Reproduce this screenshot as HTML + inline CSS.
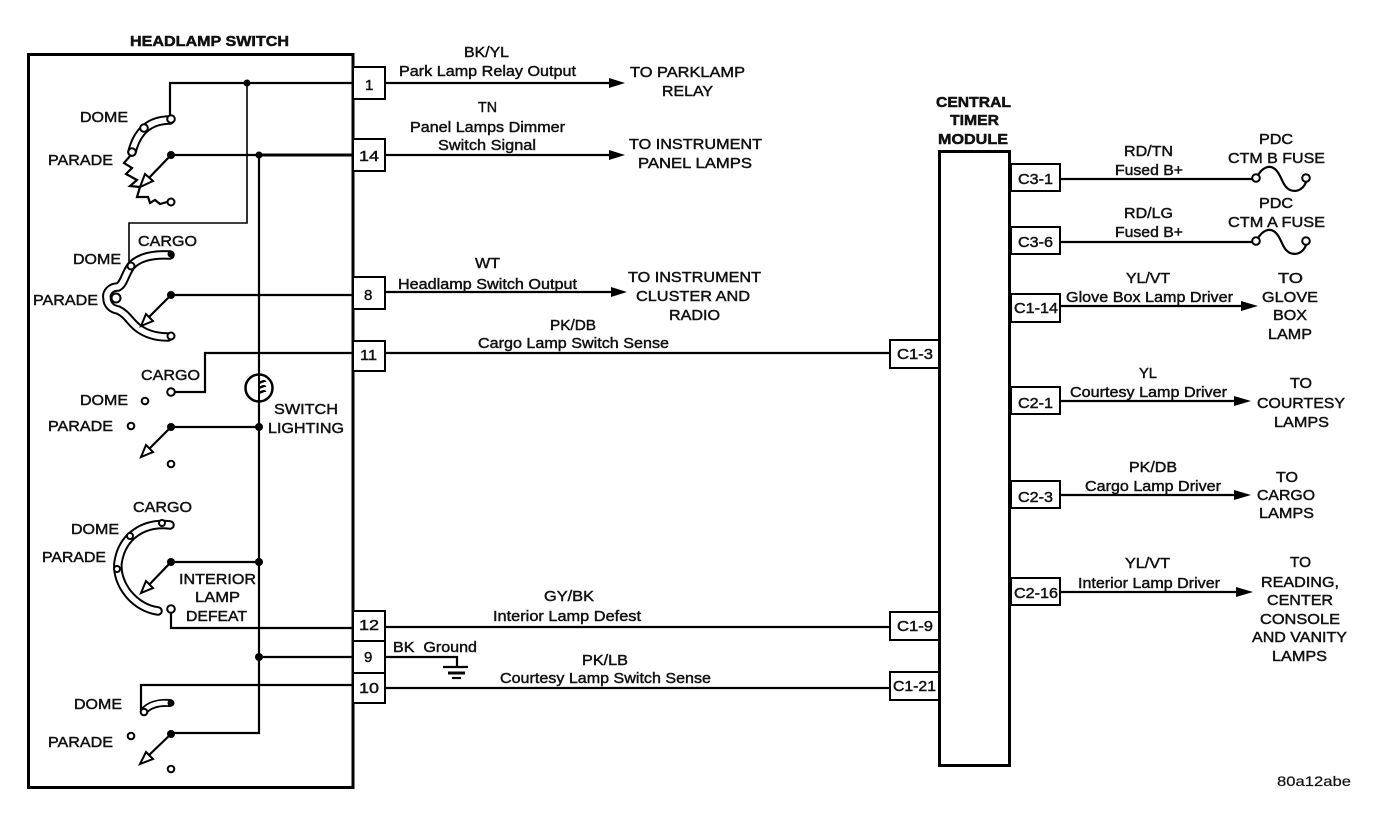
<!DOCTYPE html>
<html><head><meta charset="utf-8"><style>
html,body{margin:0;padding:0;background:#fff}
svg{display:block}
text{font-family:"Liberation Sans",sans-serif;font-size:15px;fill:#111;stroke:#111;stroke-width:.45px}
text.b{font-weight:bold;stroke-width:.5px}
.w{fill:none;stroke:#000;stroke-width:2.2}
.t{fill:none;stroke:#000;stroke-width:3}
.n{fill:none;stroke:#000;stroke-width:1.6}
.c{fill:#fff;stroke:#000;stroke-width:2}
.box{fill:#fff;stroke:#000;stroke-width:2}
</style></head><body>
<svg width="1392" height="832" viewBox="0 0 1392 832" xmlns="http://www.w3.org/2000/svg">
<rect width="1392" height="832" fill="#fff"/>
<!-- main boxes -->
<rect x="28.500" y="54.500" width="324.500" height="733" fill="none" stroke="#000" stroke-width="3"/>
<rect x="939.500" y="151.500" width="70" height="614" fill="none" stroke="#000" stroke-width="3"/>

<!-- internal wires -->
<path class="w" d="M170 117V83H353"/>
<path class="n" d="M247 83V223H129V262"/>
<path class="w" d="M171 155H259"/>
<path class="t" d="M259 155H353"/>
<path class="w" d="M259 155V375M259 401V733H171"/>
<path class="w" d="M171 295H353"/>
<path class="w" d="M171 392H205V353H353"/>
<path class="w" d="M171 427H259"/>
<path class="w" d="M171 562H259"/>
<path class="w" d="M171 613V628H353"/>
<path class="w" d="M259 657H353"/>
<path class="w" d="M141 712V685H353"/>

<!-- lamp -->
<circle cx="259" cy="388" r="13.500" fill="#fff" stroke="#000" stroke-width="2.500"/>
<path d="M259 375V401" stroke="#000" stroke-width="2" fill="none"/>
<path d="M259 383Q265 380 265 382M259 388Q265 385 265 387M259 393Q265 390 265 392" fill="none" stroke="#000" stroke-width="2.500"/>

<!-- junctions -->
<g fill="#000">
<circle cx="247" cy="83" r="3.500"/><circle cx="259" cy="155" r="3.500"/><circle cx="259" cy="295" r="1.800"/>
<circle cx="259" cy="427" r="4"/><circle cx="259" cy="562" r="4"/><circle cx="259" cy="657" r="4"/>
<circle cx="171" cy="155" r="4"/><circle cx="171" cy="295" r="4"/><circle cx="171" cy="427" r="4"/><circle cx="171" cy="562" r="4"/><circle cx="171" cy="734" r="4"/>
</g>

<!-- switch 1 -->
<path d="M170 120Q140 120 132 152" fill="none" stroke="#000" stroke-width="9.500" stroke-linecap="round"/>
<path d="M170 120Q140 120 132 152" fill="none" stroke="#fff" stroke-width="5.500" stroke-linecap="round"/>
<circle class="c" cx="171" cy="119" r="3.800"/><circle class="c" cx="144" cy="128" r="3.800"/><circle class="c" cx="132" cy="152" r="3.800"/>
<path class="w" d="M130 156L124 163L132 168L126 174L137 180L130 186L140 187L137 197L148 197L150 203L155 200L160 204L167 202"/>
<circle class="c" cx="171" cy="202" r="3.500"/>
<path class="w" d="M171 155L147 180"/><path d="M140 187L145 174L153 181Z" fill="#fff" stroke="#000" stroke-width="2"/>

<!-- switch 2 -->
<path d="M170 255C150 254 138 258 131 266C125 274 124 284 118 287C110 287 106 293 107 298C107 305 112 309 118 310C127 314 130 322 138 328C146 334 155 337 168 337" fill="none" stroke="#000" stroke-width="9.500" stroke-linecap="round"/>
<path d="M170 255C150 254 138 258 131 266C125 274 124 284 118 287C110 287 106 293 107 298C107 305 112 309 118 310C127 314 130 322 138 328C146 334 155 337 168 337" fill="none" stroke="#fff" stroke-width="5.500" stroke-linecap="round"/>
<circle class="c" cx="131" cy="266" r="3.500"/><circle class="c" cx="116" cy="298" r="4.500"/><circle cx="171" cy="254" r="3.500" fill="#000"/><circle class="c" cx="171" cy="336" r="3.500"/>
<path class="w" d="M171 295L147 319"/><path d="M141 326L146 314L153 321Z" fill="#fff" stroke="#000" stroke-width="2"/>

<!-- switch 3 -->
<circle class="c" cx="171" cy="392" r="3.800"/><circle class="c" cx="145" cy="401" r="3.300"/><circle class="c" cx="131" cy="426" r="3.300"/><circle class="c" cx="171" cy="464" r="3.300"/>
<path class="w" d="M171 427L146 452"/><path d="M141 457L146 445L153 452Z" fill="#fff" stroke="#000" stroke-width="2"/>

<!-- switch 4 -->
<path d="M170 525C145 522 122 535 118 563C116 585 135 608 158 611" fill="none" stroke="#000" stroke-width="9.500" stroke-linecap="round"/>
<path d="M170 525C145 522 122 535 118 563C116 585 135 608 158 611" fill="none" stroke="#fff" stroke-width="5.500" stroke-linecap="round"/>
<circle class="c" cx="162" cy="523" r="3"/><circle class="c" cx="130" cy="536" r="3"/><circle class="c" cx="117" cy="569" r="3"/><circle class="c" cx="171" cy="609" r="3.800"/>
<path class="w" d="M171 562L146 588"/><path d="M141 593L146 581L153 588Z" fill="#fff" stroke="#000" stroke-width="2"/>

<!-- switch 5 -->
<path d="M144 711Q152 702 170 703" fill="none" stroke="#000" stroke-width="8" stroke-linecap="round"/>
<path d="M144 711Q152 702 168 703" fill="none" stroke="#fff" stroke-width="4.500" stroke-linecap="round"/>
<circle cx="171" cy="703" r="3.500" fill="#000"/><circle class="c" cx="144" cy="712" r="3.300"/>
<circle class="c" cx="131" cy="736" r="3.300"/><circle class="c" cx="171" cy="769" r="3.300"/>
<path class="w" d="M171 734L146 758"/><path d="M140 764L146 752L153 759Z" fill="#fff" stroke="#000" stroke-width="2"/>

<!-- external wires -->
<path class="w" d="M385 83H612M385 155H612M385 292H614M385 353H890M385 627H890M385 657H457V667M385 688H890"/>
<path class="w" d="M443 667H468"/><path class="t" d="M448 673H465"/><path class="w" d="M452 678H461"/>
<path d="M625 83L609 78V88ZM625 155L609 150V160ZM627 292L611 287V297Z" fill="#000"/>
<path class="w" d="M1060 179H1256M1060 242H1256M1060 306H1245M1060 401H1236M1060 495H1236M1060 592H1236"/>
<path d="M1258 306L1241 301V311ZM1251 401L1234 396V406ZM1251 495L1234 490V500ZM1253 592L1236 587V597Z" fill="#000"/>

<!-- fuses -->
<path class="w" d="M1257 177C1262 167 1270 164 1276 170C1282 176 1282 186 1290 190C1298 193 1305 188 1307 179"/>
<path class="w" d="M1257 240C1262 230 1270 227 1276 233C1282 239 1282 249 1290 253C1298 256 1305 251 1307 242"/>
<circle class="c" cx="1256" cy="178" r="3.800"/><circle class="c" cx="1306" cy="178" r="3.800"/>
<circle class="c" cx="1256" cy="241" r="3.800"/><circle class="c" cx="1306" cy="241" r="3.800"/>

<!-- pin boxes -->
<rect class="box" x="353" y="67" width="32" height="32"/>
<rect class="box" x="353" y="139" width="32" height="32"/>
<rect class="box" x="353" y="277" width="32" height="32"/>
<rect class="box" x="353" y="341" width="32" height="30"/>
<rect class="box" x="353" y="611" width="32" height="30"/>
<rect class="box" x="353" y="641" width="32" height="32"/>
<rect class="box" x="353" y="673" width="32" height="30"/>
<rect class="box" x="890" y="340" width="49" height="28"/>
<rect class="box" x="890" y="612" width="49" height="28"/>
<rect class="box" x="890" y="672" width="49" height="28"/>
<rect class="box" x="1011" y="164" width="49" height="27"/>
<rect class="box" x="1011" y="227" width="49" height="27"/>
<rect class="box" x="1011" y="294" width="49" height="28"/>
<rect class="box" x="1011" y="387" width="49" height="27"/>
<rect class="box" x="1011" y="481" width="49" height="27"/>
<rect class="box" x="1011" y="578" width="49" height="27"/>

<!-- labels -->
<g>
<text class="b" x="130" y="46" textLength="159" lengthAdjust="spacingAndGlyphs">HEADLAMP SWITCH</text>
<text class="b" x="936" y="107" textLength="75" lengthAdjust="spacingAndGlyphs">CENTRAL</text>
<text class="b" x="950" y="125" textLength="49" lengthAdjust="spacingAndGlyphs">TIMER</text>
<text class="b" x="938" y="144" textLength="70" lengthAdjust="spacingAndGlyphs">MODULE</text>

<text x="80" y="122" textLength="48" lengthAdjust="spacingAndGlyphs">DOME</text>
<text x="48" y="165" textLength="65" lengthAdjust="spacingAndGlyphs">PARADE</text>
<text x="138" y="246" textLength="59" lengthAdjust="spacingAndGlyphs">CARGO</text>
<text x="73" y="264" textLength="48" lengthAdjust="spacingAndGlyphs">DOME</text>
<text x="33" y="305" textLength="65" lengthAdjust="spacingAndGlyphs">PARADE</text>
<text x="141" y="380" textLength="59" lengthAdjust="spacingAndGlyphs">CARGO</text>
<text x="80" y="405" textLength="48" lengthAdjust="spacingAndGlyphs">DOME</text>
<text x="48" y="431" textLength="65" lengthAdjust="spacingAndGlyphs">PARADE</text>
<text x="274" y="414" textLength="64" lengthAdjust="spacingAndGlyphs">SWITCH</text>
<text x="268" y="433" textLength="76" lengthAdjust="spacingAndGlyphs">LIGHTING</text>
<text x="133" y="512" textLength="59" lengthAdjust="spacingAndGlyphs">CARGO</text>
<text x="71" y="534" textLength="48" lengthAdjust="spacingAndGlyphs">DOME</text>
<text x="42" y="562" textLength="64" lengthAdjust="spacingAndGlyphs">PARADE</text>
<text x="179" y="584" textLength="77" lengthAdjust="spacingAndGlyphs">INTERIOR</text>
<text x="195" y="602" textLength="45" lengthAdjust="spacingAndGlyphs">LAMP</text>
<text x="186" y="621" textLength="61" lengthAdjust="spacingAndGlyphs">DEFEAT</text>
<text x="74" y="709" textLength="48" lengthAdjust="spacingAndGlyphs">DOME</text>
<text x="48" y="747" textLength="65" lengthAdjust="spacingAndGlyphs">PARADE</text>

<text x="365" y="90">1</text>
<text x="359" y="161" textLength="20" lengthAdjust="spacingAndGlyphs">14</text>
<text x="364" y="300">8</text>
<text x="360" y="360" textLength="17" lengthAdjust="spacingAndGlyphs">11</text>
<text x="359" y="630" textLength="20" lengthAdjust="spacingAndGlyphs">12</text>
<text x="364" y="662">9</text>
<text x="359" y="693" textLength="20" lengthAdjust="spacingAndGlyphs">10</text>

<text x="464" y="57" textLength="45" lengthAdjust="spacingAndGlyphs">BK/YL</text>
<text x="399" y="76" textLength="177" lengthAdjust="spacingAndGlyphs">Park Lamp Relay Output</text>
<text x="630" y="77" textLength="115" lengthAdjust="spacingAndGlyphs">TO PARKLAMP</text>
<text x="662" y="96" textLength="51" lengthAdjust="spacingAndGlyphs">RELAY</text>
<text x="478" y="112" textLength="19" lengthAdjust="spacingAndGlyphs">TN</text>
<text x="410" y="132" textLength="155" lengthAdjust="spacingAndGlyphs">Panel Lamps Dimmer</text>
<text x="438" y="150" textLength="98" lengthAdjust="spacingAndGlyphs">Switch Signal</text>
<text x="629" y="149" textLength="133" lengthAdjust="spacingAndGlyphs">TO INSTRUMENT</text>
<text x="638" y="168" textLength="114" lengthAdjust="spacingAndGlyphs">PANEL LAMPS</text>
<text x="475" y="268" textLength="25" lengthAdjust="spacingAndGlyphs">WT</text>
<text x="398" y="289" textLength="179" lengthAdjust="spacingAndGlyphs">Headlamp Switch Output</text>
<text x="628" y="282" textLength="133" lengthAdjust="spacingAndGlyphs">TO INSTRUMENT</text>
<text x="636" y="301" textLength="114" lengthAdjust="spacingAndGlyphs">CLUSTER AND</text>
<text x="669" y="320" textLength="51" lengthAdjust="spacingAndGlyphs">RADIO</text>
<text x="550" y="330" textLength="46" lengthAdjust="spacingAndGlyphs">PK/DB</text>
<text x="478" y="348" textLength="191" lengthAdjust="spacingAndGlyphs">Cargo Lamp Switch Sense</text>
<text x="544" y="601" textLength="50" lengthAdjust="spacingAndGlyphs">GY/BK</text>
<text x="493" y="621" textLength="148" lengthAdjust="spacingAndGlyphs">Interior Lamp Defest</text>
<text x="393" y="652" textLength="84" lengthAdjust="spacingAndGlyphs" xml:space="preserve">BK  Ground</text>
<text x="582" y="665" textLength="46" lengthAdjust="spacingAndGlyphs">PK/LB</text>
<text x="500" y="683" textLength="211" lengthAdjust="spacingAndGlyphs">Courtesy Lamp Switch Sense</text>

<text x="897" y="359" textLength="36" lengthAdjust="spacingAndGlyphs">C1-3</text>
<text x="897" y="631" textLength="36" lengthAdjust="spacingAndGlyphs">C1-9</text>
<text x="893" y="691" textLength="43" lengthAdjust="spacingAndGlyphs">C1-21</text>
<text x="1018" y="184" textLength="35" lengthAdjust="spacingAndGlyphs">C3-1</text>
<text x="1018" y="247" textLength="35" lengthAdjust="spacingAndGlyphs">C3-6</text>
<text x="1014" y="313" textLength="44" lengthAdjust="spacingAndGlyphs">C1-14</text>
<text x="1018" y="408" textLength="35" lengthAdjust="spacingAndGlyphs">C2-1</text>
<text x="1018" y="502" textLength="35" lengthAdjust="spacingAndGlyphs">C2-3</text>
<text x="1014" y="598" textLength="44" lengthAdjust="spacingAndGlyphs">C2-16</text>

<text x="1124" y="156" textLength="49" lengthAdjust="spacingAndGlyphs">RD/TN</text>
<text x="1115" y="175" textLength="68" lengthAdjust="spacingAndGlyphs">Fused B+</text>
<text x="1259" y="144" textLength="34" lengthAdjust="spacingAndGlyphs">PDC</text>
<text x="1228" y="163" textLength="97" lengthAdjust="spacingAndGlyphs">CTM B FUSE</text>
<text x="1124" y="218" textLength="49" lengthAdjust="spacingAndGlyphs">RD/LG</text>
<text x="1115" y="237" textLength="68" lengthAdjust="spacingAndGlyphs">Fused B+</text>
<text x="1259" y="208" textLength="34" lengthAdjust="spacingAndGlyphs">PDC</text>
<text x="1228" y="227" textLength="97" lengthAdjust="spacingAndGlyphs">CTM A FUSE</text>
<text x="1126" y="283" textLength="44" lengthAdjust="spacingAndGlyphs">YL/VT</text>
<text x="1066" y="302" textLength="167" lengthAdjust="spacingAndGlyphs">Glove Box Lamp Driver</text>
<text x="1278" y="283" textLength="25" lengthAdjust="spacingAndGlyphs">TO</text>
<text x="1262" y="302" textLength="56" lengthAdjust="spacingAndGlyphs">GLOVE</text>
<text x="1273" y="320" textLength="34" lengthAdjust="spacingAndGlyphs">BOX</text>
<text x="1268" y="339" textLength="44" lengthAdjust="spacingAndGlyphs">LAMP</text>
<text x="1139" y="378" textLength="18" lengthAdjust="spacingAndGlyphs">YL</text>
<text x="1070" y="397" textLength="157" lengthAdjust="spacingAndGlyphs">Courtesy Lamp Driver</text>
<text x="1290" y="388" textLength="22" lengthAdjust="spacingAndGlyphs">TO</text>
<text x="1257" y="408" textLength="88" lengthAdjust="spacingAndGlyphs">COURTESY</text>
<text x="1274" y="427" textLength="55" lengthAdjust="spacingAndGlyphs">LAMPS</text>
<text x="1129" y="472" textLength="48" lengthAdjust="spacingAndGlyphs">PK/DB</text>
<text x="1085" y="491" textLength="136" lengthAdjust="spacingAndGlyphs">Cargo Lamp Driver</text>
<text x="1276" y="482" textLength="22" lengthAdjust="spacingAndGlyphs">TO</text>
<text x="1257" y="500" textLength="58" lengthAdjust="spacingAndGlyphs">CARGO</text>
<text x="1259" y="518" textLength="55" lengthAdjust="spacingAndGlyphs">LAMPS</text>
<text x="1125" y="568" textLength="45" lengthAdjust="spacingAndGlyphs">YL/VT</text>
<text x="1078" y="588" textLength="142" lengthAdjust="spacingAndGlyphs">Interior Lamp Driver</text>
<text x="1290" y="567" textLength="21" lengthAdjust="spacingAndGlyphs">TO</text>
<text x="1261" y="587" textLength="78" lengthAdjust="spacingAndGlyphs">READING,</text>
<text x="1267" y="605" textLength="66" lengthAdjust="spacingAndGlyphs">CENTER</text>
<text x="1260" y="624" textLength="80" lengthAdjust="spacingAndGlyphs">CONSOLE</text>
<text x="1252" y="642" textLength="95" lengthAdjust="spacingAndGlyphs">AND VANITY</text>
<text x="1272" y="661" textLength="55" lengthAdjust="spacingAndGlyphs">LAMPS</text>
<text x="1277" y="786" textLength="74" lengthAdjust="spacingAndGlyphs" style="font-size:14px;stroke-width:.2px">80a12abe</text>
</g>
</svg>
</body></html>
